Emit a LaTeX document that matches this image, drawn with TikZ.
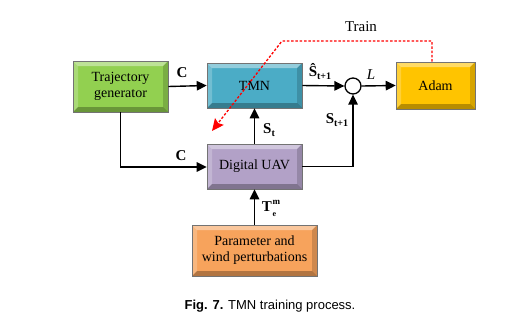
\documentclass[tikz,border=0pt]{standalone}
\usepackage{fontspec}
\setmainfont{Liberation Serif}
\newfontfamily\capfont{Liberation Sans}
\usetikzlibrary{arrows.meta}
\definecolor{cgreen}{RGB}{146,208,80}
\definecolor{cblue}{RGB}{75,172,198}
\definecolor{cgold}{RGB}{255,196,0}
\definecolor{cpurple}{RGB}{178,161,199}
\definecolor{corange}{RGB}{247,163,92}
\definecolor{cred}{RGB}{255,0,0}
\tikzset{
  bbox/.style={draw=black!55, line width=0.6pt, inner sep=2pt, align=center,
    font=\fontsize{14}{16}\selectfont,
    path picture={
      \fill[white,opacity=.40] (path picture bounding box.north west) -- (path picture bounding box.north east)
        -- ([xshift=-5pt,yshift=-5pt]path picture bounding box.north east) -- ([xshift=5pt,yshift=-5pt]path picture bounding box.north west) -- cycle;
      \fill[white,opacity=.22] (path picture bounding box.north west) -- (path picture bounding box.south west)
        -- ([xshift=5pt,yshift=5pt]path picture bounding box.south west) -- ([xshift=5pt,yshift=-5pt]path picture bounding box.north west) -- cycle;
      \fill[black,opacity=.28] (path picture bounding box.south west) -- (path picture bounding box.south east)
        -- ([xshift=-5pt,yshift=5pt]path picture bounding box.south east) -- ([xshift=5pt,yshift=5pt]path picture bounding box.south west) -- cycle;
      \fill[black,opacity=.16] (path picture bounding box.north east) -- (path picture bounding box.south east)
        -- ([xshift=-5pt,yshift=5pt]path picture bounding box.south east) -- ([xshift=-5pt,yshift=-5pt]path picture bounding box.north east) -- cycle;
    }},
  arr/.style={draw=black, line width=1.4pt, -{Triangle[length=10pt,width=9.5pt]}},
  lbl/.style={font=\fontsize{15}{17}\selectfont\bfseries, inner sep=0pt},
  redarr/.style={draw=cred, line width=1.3pt, dash pattern=on 2.5pt off 1.8pt, -{Stealth[length=12pt,width=11pt,inset=2pt]}},
}
\begin{document}
\begin{tikzpicture}[x=1pt,y=-1pt]
\useasboundingbox (0,0) rectangle (510,333);
\node[bbox, fill=cgreen, minimum width=95pt, minimum height=51pt] (traj) at (120.5,86.5) {Trajectory\\generator};
\node[bbox, fill=cblue, minimum width=95pt, minimum height=45pt] (tmn) at (254.5,85.5) {TMN};
\node[bbox, fill=cgold, minimum width=79pt, minimum height=47pt] (adam) at (435.5,85.5) {Adam};
\node[bbox, fill=cpurple, minimum width=95pt, minimum height=45pt] (uav) at (254.5,166.5) {Digital UAV};
\node[bbox, fill=corange, minimum width=125pt, minimum height=51pt] (param) at (254.5,250.5) {Parameter and\\wind perturbations};
\node[circle, draw=black, line width=1.3pt, fill=white, minimum size=16pt, inner sep=0pt] (sum) at (353,86) {};
\coordinate (corner1) at (120.5,167);
\coordinate (corner2) at (353,166.5);
\coordinate (r1) at (432,41);
\coordinate (r2) at (282,41);
\coordinate (rtip) at (212,131);
% connectors
\draw[arr] (traj.east) -- (tmn.west);
\draw[arr] (traj.south) -- (corner1) -- (uav.west |- corner1);
\draw[arr] (uav.north) -- (tmn.south);
\draw[arr] (uav.east) -- (corner2) -- (sum.south);
\draw[arr] (tmn.east) -- (sum.west);
\draw[arr] (sum.east) -- (adam.west);
\draw[arr] (param.north) -- (uav.south);
\draw[redarr] (adam.north -| r1) -- (r1) -- (r2) -- (rtip);
% labels
\node[lbl] (c1) at (182,73) {C};
\node[lbl] (c2) at (181,156) {C};
\node[lbl] (st) at (269,130) {S\raisebox{-3pt}{\fontsize{10}{10}\selectfont t}};
\node[lbl] (shat) at (320,72) {Ŝ\raisebox{-3pt}{\fontsize{10}{10}\selectfont t+1}};
\node[inner sep=0pt, font=\fontsize{15}{17}\selectfont\itshape] (ll) at (371,75) {L};
\node[lbl] (st1) at (337,120) {S\raisebox{-3pt}{\fontsize{10}{10}\selectfont t+1}};
\node[inner sep=0pt, font=\fontsize{15}{17}\selectfont] (train) at (361,27) {Train};
\node[lbl] (te) at (269,208) {T\kern0.8pt\makebox[0pt][l]{\raisebox{7pt}{\fontsize{9}{9}\selectfont m}}\raisebox{-5pt}{\fontsize{8}{8}\selectfont e}\hspace{4pt}};
\node[inner sep=0pt, font=\capfont\fontsize{13}{15}\selectfont] (cap) at (270,306) {\textbf{Fig. 7.} TMN training process.};
\end{tikzpicture}
\end{document}
